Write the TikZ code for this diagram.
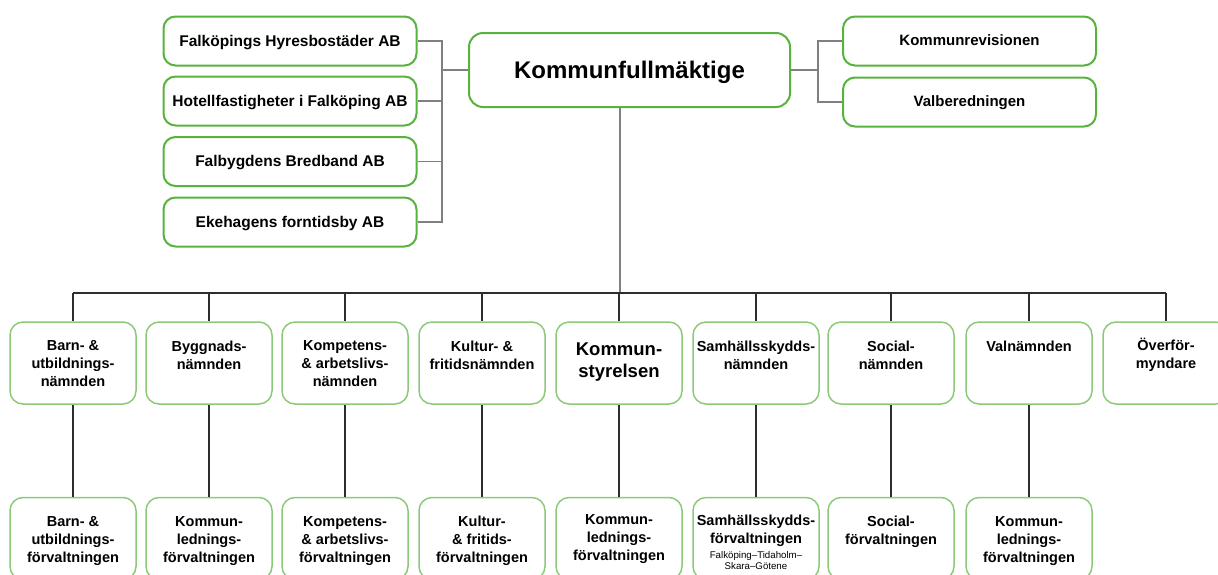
\documentclass[tikz,border=0pt]{standalone}
\usepackage{fontspec}
\setmainfont{Liberation Sans}
\definecolor{topgreen}{RGB}{88,178,62}
\definecolor{lowgreen}{RGB}{140,202,122}
\definecolor{linegray}{RGB}{128,128,128}
\definecolor{busdark}{RGB}{45,45,45}
\begin{document}
\begin{tikzpicture}[x=1pt,y=-1pt]
\tikzset{
  topbox/.style={draw=topgreen,line width=2pt,rounded corners=12pt,fill=white,
    minimum width=253pt,minimum height=49pt,inner sep=0pt,text depth=1pt,
    font=\fontsize{15.5}{18}\selectfont\bfseries},
  rightbox/.style={topbox,font=\fontsize{15}{18}\selectfont\bfseries},
  mainbox/.style={topbox,minimum width=321pt,minimum height=74pt,rounded corners=14pt,
    font=\fontsize{24}{27}\selectfont\bfseries},
  unit/.style={draw=lowgreen,line width=1.5pt,rounded corners=13pt,fill=white,
    minimum width=126pt,minimum height=82pt,inner sep=0pt},
  txt/.style={anchor=north,align=center,inner sep=0pt,
    font=\fontsize{14.5}{18}\selectfont\bfseries},
  bigtxt/.style={txt,font=\fontsize{18.5}{22}\selectfont\bfseries},
  conn/.style={draw=linegray,line width=1.5pt},
  bus/.style={draw=busdark,line width=1.5pt}
}
\useasboundingbox (0,0) rectangle (1218,574);
\clip (0,0) rectangle (1218,574);
% top level
\node[mainbox] (kf) at (629.5,70) {Kommunfullmäktige};
\node[topbox] (ab1) at (290,41) {Falköpings Hyresbostäder AB};
\node[topbox] (ab2) at (290,101) {Hotellfastigheter i Falköping AB};
\node[topbox] (ab3) at (290,161.5) {Falbygdens Bredband AB};
\node[topbox] (ab4) at (290,222) {Ekehagens forntidsby AB};
\node[rightbox] (rev) at (969.5,41) {Kommunrevisionen};
\node[rightbox] (val) at (969.5,102) {Valberedningen};
\coordinate (lb) at (442,70);
\coordinate (rb) at (818,70);
\coordinate (bus) at (620,293);
\draw[conn] (kf.west) -- (lb) (ab1.east) -| (lb) (ab2.east) -| (lb)
  (ab3.east) -| (lb) (ab4.east) -| (lb);
\draw[conn] (kf.east) -- (rb) (rev.west) -| (rb) (val.west) -| (rb);
\draw[conn] (kf.south -| bus) -- (bus);
% nämnder
\foreach \n/\x in {1/73,2/209,3/345,4/482,5/619,6/756,7/891,8/1029,9/1166}
  \node[unit] (n\n) at (\x,363) {};
\node[txt] (tn1) at ([yshift=-19.5pt]n1.north) {Barn- \&\\utbildnings-\\nämnden};
\node[txt] (tn2) at ([yshift=-19.5pt]n2.north) {Byggnads-\\nämnden};
\node[txt] (tn3) at ([yshift=-19.5pt]n3.north) {Kompetens-\\\& arbetslivs-\\nämnden};
\node[txt] (tn4) at ([yshift=-19.5pt]n4.north) {Kultur- \&\\fritidsnämnden};
\node[bigtxt] (tn5) at ([yshift=-21.5pt]n5.north) {Kommun-\\styrelsen};
\node[txt] (tn6) at ([yshift=-19.5pt]n6.north) {Samhällsskydds-\\nämnden};
\node[txt] (tn7) at ([yshift=-19.5pt]n7.north) {Social-\\nämnden};
\node[txt] (tn8) at ([yshift=-19.5pt]n8.north) {Valnämnden};
\node[txt] (tn9) at ([yshift=-17pt]n9.north) {Överför-\\myndare};
\draw[bus] (n1.north |- bus) -- (n9.north |- bus);
\foreach \n in {1,...,9}
  \draw[bus] (n\n.north |- bus) -- (n\n.north);
% förvaltningar
\foreach \n in {1,...,8}
  \node[unit] (f\n) at ([yshift=-92pt]n\n.south) [anchor=north] {};
\node[txt] (tf1) at ([yshift=-19.5pt]f1.north) {Barn- \&\\utbildnings-\\förvaltningen};
\node[txt] (tf2) at ([yshift=-19.5pt]f2.north) {Kommun-\\lednings-\\förvaltningen};
\node[txt] (tf3) at ([yshift=-19.5pt]f3.north) {Kompetens-\\\& arbetslivs-\\förvaltningen};
\node[txt] (tf4) at ([yshift=-19.5pt]f4.north) {Kultur-\\\& fritids-\\förvaltningen};
\node[txt] (tf5) at ([yshift=-17.5pt]f5.north) {Kommun-\\lednings-\\förvaltningen};
\node[txt] (tf6) at ([yshift=-18.5pt]f6.north) {Samhällsskydds-\\förvaltningen};
\node[txt,font=\fontsize{9.7}{11}\selectfont] (sub6) at ([yshift=-4pt]tf6.south)
  {Falköping–Tidaholm–\\Skara–Götene};
\node[txt] (tf7) at ([yshift=-19.5pt]f7.north) {Social-\\förvaltningen};
\node[txt] (tf8) at ([yshift=-19.5pt]f8.north) {Kommun-\\lednings-\\förvaltningen};
\foreach \n in {1,...,8}
  \draw[bus] (n\n.south) -- (f\n.north);
\end{tikzpicture}
\end{document}
